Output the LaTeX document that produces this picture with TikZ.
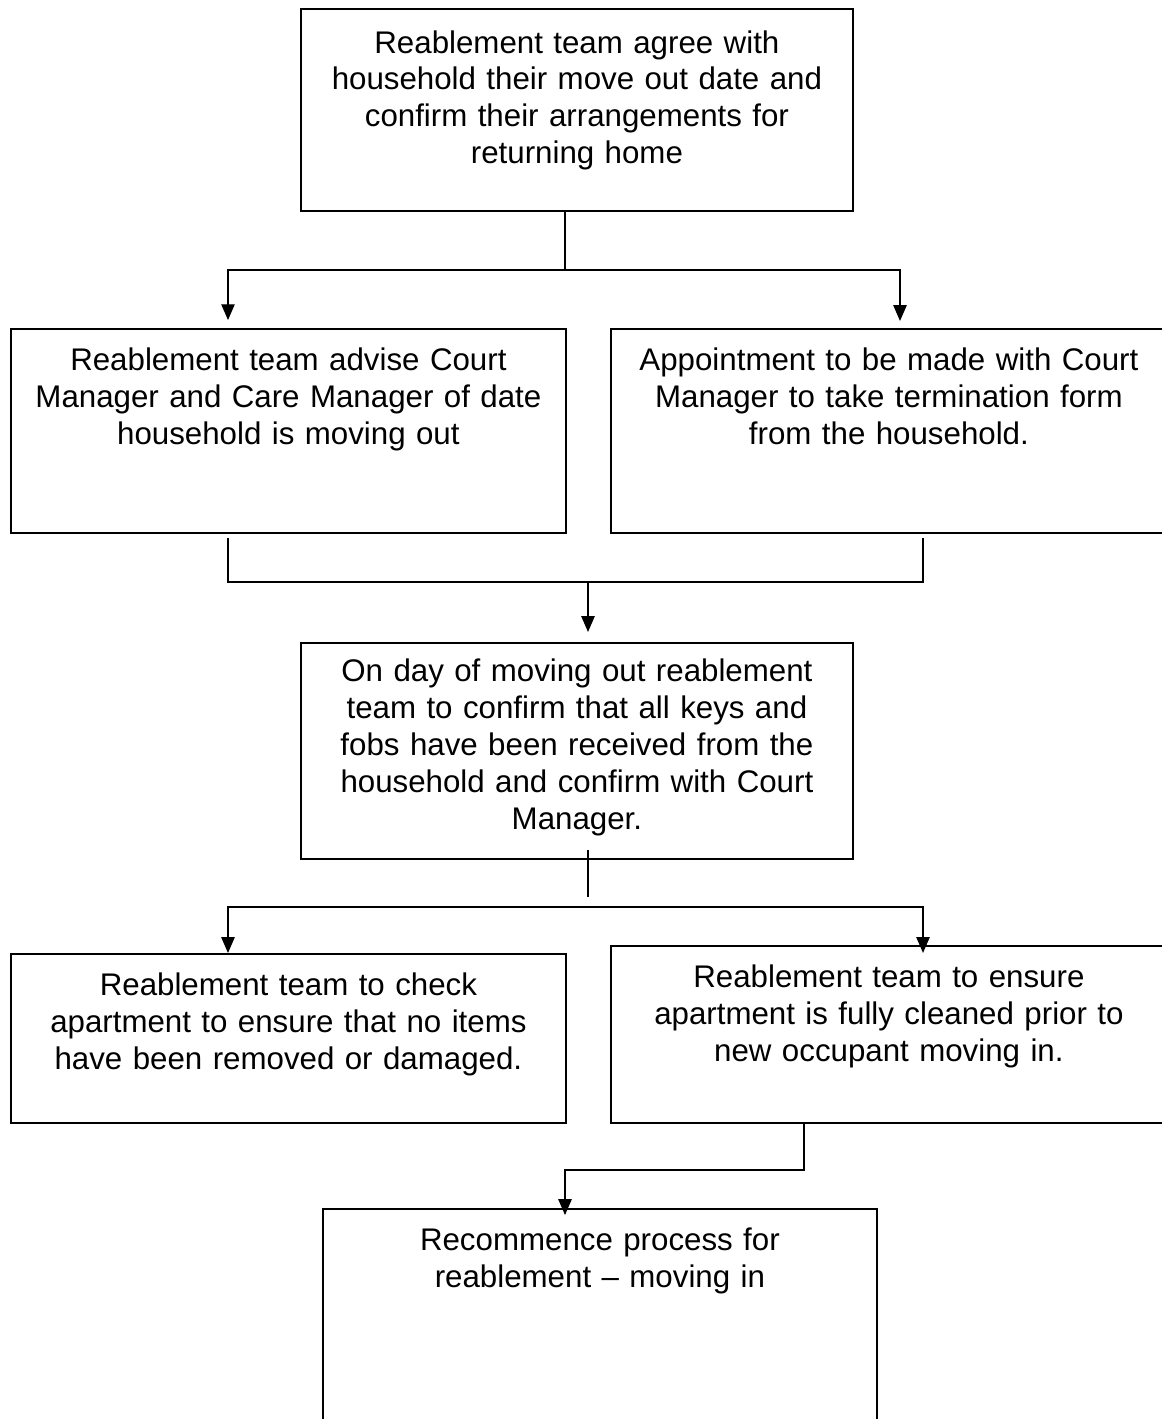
\documentclass[tikz,border=0pt]{standalone}
\usepackage{fontspec}
\setmainfont{Liberation Sans}
\usetikzlibrary{positioning,arrows.meta}
\newcommand{\boxfont}{\fontsize{17.8pt}{21pt}\selectfont}
\tikzset{
  stepbox/.style={draw,line width=1.1pt,anchor=north west,align=center,inner xsep=0pt,inner ysep=8.6pt,text height=15.3pt,font=\boxfont},
  link/.style={line width=0.75pt},
  flow/.style={link,-{Triangle[length=9pt,width=7.6pt]}}
}

\begin{document}
\begin{tikzpicture}[x=0.02cm,y=-0.02cm]
\useasboundingbox (0,0) rectangle (1162,1419);
\node[stepbox,text width=11.04cm,text height=16.5pt,text depth=81.2pt] (reach) at (300,8) {Reablement team agree with\\household their move out date and\\confirm their arrangements for\\returning home};
\node[stepbox,text width=11.1cm,text depth=83.6pt] (advise) at (10,328) {Reablement team advise Court\\Manager and Care Manager of date\\household is moving out};
\node[stepbox,text width=11.12cm,text depth=83.6pt] (tenancy) at (610,328) {Appointment to be made with Court\\Manager to take termination form\\from the household.};
\node[stepbox,text width=11.04cm,text height=13.5pt,text depth=92.2pt] (handover) at (300,642) {On day of moving out reablement\\team to confirm that all keys and\\fobs have been received from the\\household and confirm with Court\\Manager.};
\node[stepbox,text width=11.1cm,text depth=63.7pt] (check) at (10,953) {Reablement team to check\\apartment to ensure that no items\\have been removed or damaged.};
\node[stepbox,text width=11.12cm,text depth=68.2pt] (clean) at (610,945) {Reablement team to ensure\\apartment is fully cleaned prior to\\new occupant moving in.};
\node[stepbox,text width=11.08cm,text depth=108pt] (recommence) at (322,1208) {Recommence process for\\reablement -- moving in};

\coordinate (j1) at (565,270);
\coordinate (a1) at (228,270);
\coordinate (a2) at (900,270);
\draw[link] (j1 |- reach.south) -- (j1);
\draw[flow,shorten >=4.5pt] (j1) -| (a1 |- advise.north);
\draw[flow,shorten >=4pt] (j1) -| (a2 |- tenancy.north);

\coordinate (m1) at (228,582);
\coordinate (m2) at (923,582);
\coordinate (m3) at (588,582);
\draw[link,shorten <=2.3pt,shorten >=2.3pt] (m1 |- advise.south) -- (m1) -- (m2) -- (m2 |- tenancy.south);
\draw[flow,shorten >=5.7pt] (m3) -- (m3 |- handover.north);

\coordinate (j2) at (588,897);
\coordinate (c1) at (228,907);
\coordinate (c2) at (923,907);
\coordinate (c3) at (588,907);
\draw[link,shorten <=-5.7pt] (j2 |- handover.south) -- (j2);
\draw[flow] (c3) -| (c1 |- check.north);
\draw[flow,shorten >=-4.5pt] (c3) -| (c2 |- clean.north);

\coordinate (d1) at (804,1170);
\coordinate (d2) at (565,1170);
\draw[flow,shorten >=-4pt] (d1 |- clean.south) -- (d1) -| (d2 |- recommence.north);
\end{tikzpicture}
\end{document}
